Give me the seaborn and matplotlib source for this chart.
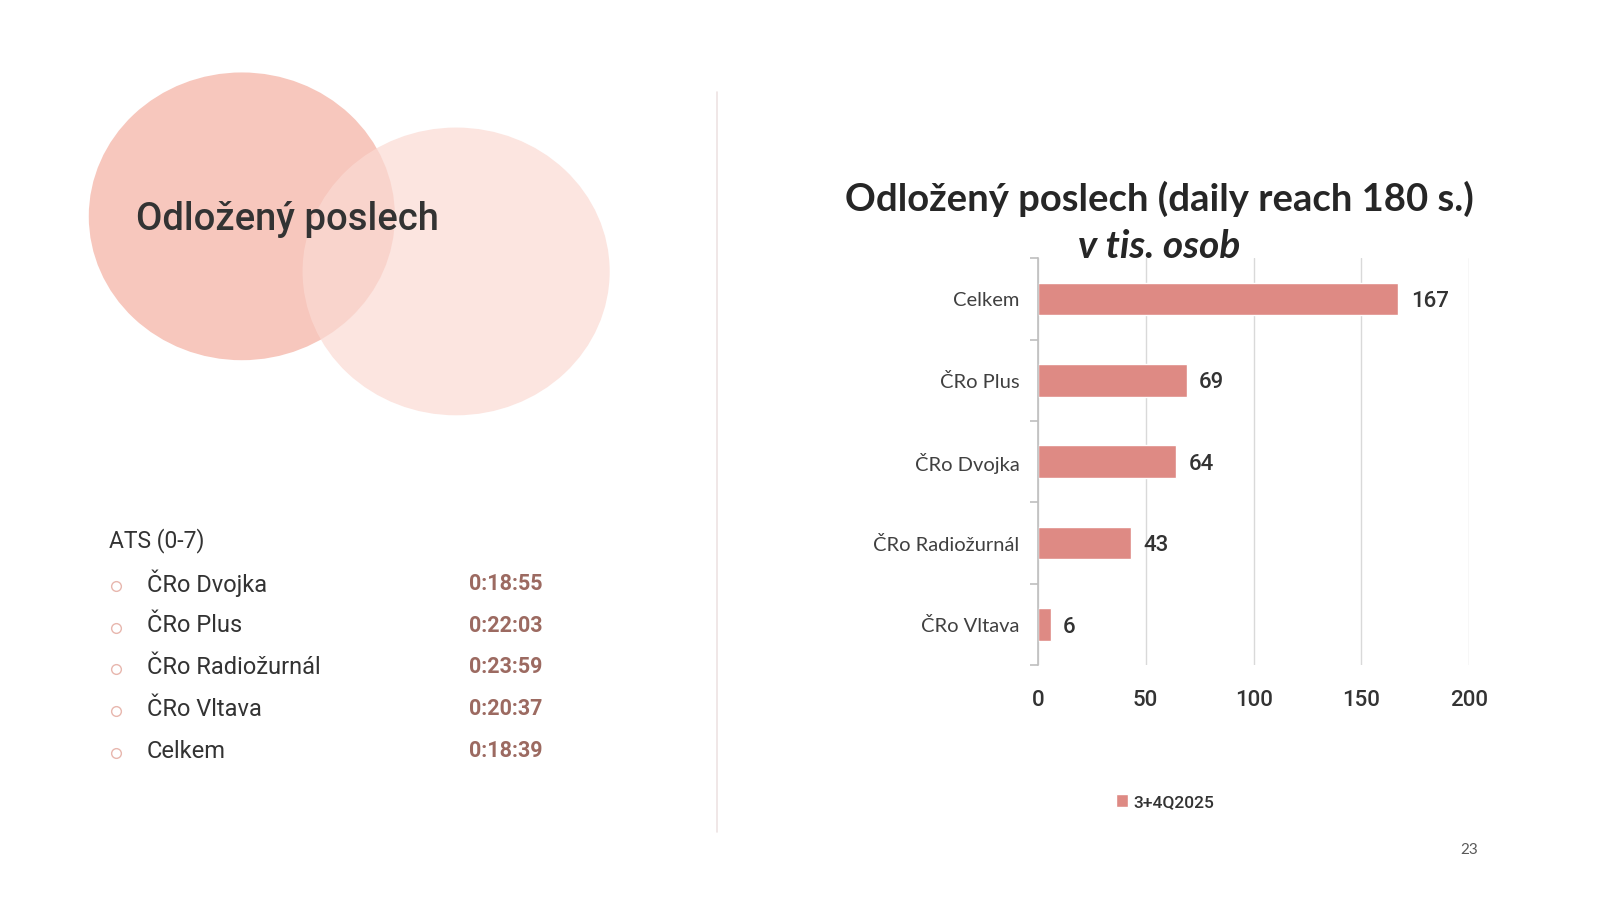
import pandas as pd
import numpy as np
import matplotlib.pyplot as plt
import seaborn as sns
from matplotlib.patches import Ellipse

# Data
stations = ['Celkem', 'ČRo Plus', 'ČRo Dvojka', 'ČRo Radiožurnál', 'ČRo Vltava']
reach = [167, 69, 64, 43, 6]
period = '3+4Q2025'

ats_stations = ['ČRo Dvojka', 'ČRo Plus', 'ČRo Radiožurnál', 'ČRo Vltava', 'Celkem']
ats_times = ['0:18:55', '0:22:03', '0:23:59', '0:20:37', '0:18:39']

df = pd.DataFrame({'station': stations, 'reach': reach, 'period': period})

sns.set_theme(style='white')
plt.rcParams['font.family'] = ['Lato', 'DejaVu Sans']

bar_color = '#DE8A84'
dark = '#333333'
din = ['Roboto', 'DejaVu Sans']
W, H = 1568, 882  # reference layout in px


def fx(x):
    return x / W


def fy(y):
    return 1 - y / H


fig = plt.figure(figsize=(16, 9), dpi=100)
fig.patch.set_facecolor('white')

# decorative circles on the left
bg = fig.add_axes([0, 0, 1, 1], zorder=0)
bg.set_xlim(0, W)
bg.set_ylim(H, 0)
bg.axis('off')
bg.add_patch(Ellipse((237, 212), 300, 282, color='#F7C7BD', lw=0))
bg.add_patch(Ellipse((447, 266), 301, 282, color='#FBDAD3', alpha=0.7, lw=0))
bg.plot([703, 703], [90, 815], color='#EDE3E3', lw=1.2)

fig.text(fx(133), fy(215), 'Odložený poslech', fontsize=27.5, color=dark,
         family=din, weight='medium', va='center', ha='left')

# ATS list
fig.text(fx(107), fy(530), 'ATS (0-7)', fontsize=16.5, color=dark,
         family=din, va='center')
for i, (name, t) in enumerate(zip(ats_stations, ats_times)):
    y = 572 + i * 41
    bg.plot(114, y + 2, 'o', ms=7, mfc='none', mec='#E8B7AE', mew=1)
    fig.text(fx(144), fy(y), name, fontsize=17, color=dark,
             family=din, va='center')
    fig.text(fx(460), fy(y), t, fontsize=15.5, color='#9C6A61',
             family=din, weight='bold', va='center')

# bar chart
ax = fig.add_axes([fx(1017), fy(652), fx(1440) - fx(1017), fy(253) - fy(652)])
sns.barplot(data=df, x='reach', y='station', hue='period', palette=[bar_color],
            width=0.4, ax=ax, legend=True, saturation=1)
ax.set_xlim(0, 200)
ax.set_ylim(4.5, -0.5)
ax.set_xticks([0, 50, 100, 150, 200])
ax.xaxis.grid(True, color='#D9D9D9', lw=1)
ax.set_axisbelow(True)
for s in ['top', 'right', 'bottom']:
    ax.spines[s].set_visible(False)
ax.spines['left'].set_color('#BFBFBF')
ax.spines['left'].set_linewidth(1.2)
ax.set_xlabel('')
ax.set_ylabel('')
ax.tick_params(axis='y', which='major', left=False, length=0, pad=13,
               labelsize=14.5, labelcolor='#404040')
ax.set_yticks(np.arange(-0.5, 5, 1), minor=True)
ax.tick_params(axis='y', which='minor', left=True, length=6, color='#BFBFBF', width=1.2)
ax.tick_params(axis='x', length=0, pad=18, labelsize=16, labelcolor=dark)
for lbl in ax.get_xticklabels():
    lbl.set_family(din)
    lbl.set_weight('medium')

for c in ax.containers:
    labels = ax.bar_label(c, fmt='%d', padding=9, fontsize=16, color=dark,
                          family=din, weight='medium')
    for lab in labels:
        lab.set_va('center_baseline')

leg = ax.legend(loc='center', bbox_to_anchor=(fx(1142), fy(786)),
                bbox_transform=fig.transFigure, frameon=False, fontsize=12.5,
                handlelength=0.7, handleheight=0.7, handletextpad=0.3)
for t in leg.get_texts():
    t.set_color(dark)
    t.set_family(din)
    t.set_weight('medium')

fig.text(fx(1136), fy(195), 'Odložený poslech (daily reach 180 s.)', fontsize=27.5,
         weight='bold', color='#262626', ha='center', va='center')
fig.text(fx(1136), fy(242), 'v tis. osob', fontsize=28, weight='bold', style='italic',
         color='#262626', ha='center', va='center')

fig.text(fx(1440), fy(833), '23', fontsize=11, color='#595959', ha='center', va='center')

fig.savefig('out.png', dpi=100, facecolor='white')
